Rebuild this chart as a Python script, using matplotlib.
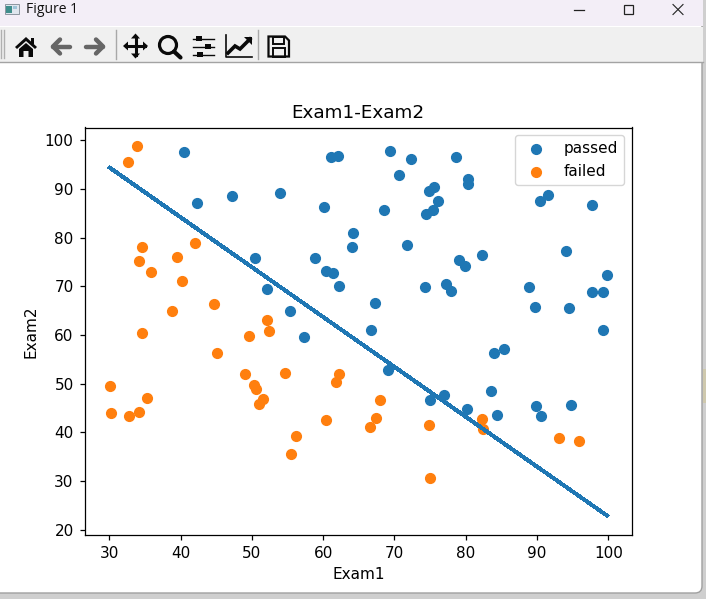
import numpy as np
import matplotlib as mpl
mpl.use('Agg')
import matplotlib.pyplot as plt
from matplotlib.patches import Polygon, Circle, Rectangle, FancyBboxPatch

passed_x = [60.18, 79.03, 61.11, 75.02, 76.10, 84.43, 82.31, 69.36, 53.97, 69.07,
            70.66, 76.98, 89.68, 77.92, 62.27, 80.19, 61.38, 85.40, 52.05, 64.18,
            83.90, 94.44, 77.19, 97.77, 62.07, 91.56, 79.94, 99.27, 90.55, 97.65,
            74.25, 71.80, 75.40, 40.46, 80.28, 66.75, 64.04, 72.35, 60.46, 58.84,
            99.83, 47.26, 50.46, 88.91, 94.83, 67.32, 57.24, 80.37, 68.47, 75.48,
            78.64, 94.09, 90.45, 74.49, 89.85, 83.49, 42.26, 99.32, 55.34, 74.78]
passed_y = [86.31, 75.34, 96.51, 46.55, 87.42, 43.53, 76.48, 97.72, 89.21, 52.74,
            92.93, 47.58, 65.80, 68.97, 69.95, 44.82, 72.81, 57.05, 69.43, 80.91,
            56.31, 65.57, 70.46, 86.73, 96.77, 88.70, 74.16, 60.99, 43.39, 68.86,
            69.82, 78.45, 85.76, 97.54, 92.12, 60.99, 78.03, 96.23, 73.09, 75.86,
            72.37, 88.48, 75.81, 69.80, 45.69, 66.59, 59.51, 90.96, 85.59, 90.42,
            96.65, 77.16, 87.51, 84.85, 45.36, 48.38, 87.10, 68.78, 64.93, 89.53]
failed_x = [34.62, 30.29, 35.85, 45.08, 95.86, 75.01, 39.54, 67.95, 67.37, 50.53,
            34.21, 93.11, 61.83, 38.79, 52.11, 40.24, 54.64, 33.92, 74.79, 34.18,
            51.55, 82.37, 51.05, 62.22, 34.52, 50.29, 49.59, 32.58, 35.29, 56.25,
            30.06, 44.67, 66.56, 49.07, 32.72, 60.46, 82.23, 42.08, 52.35, 55.48]
failed_y = [78.02, 43.89, 72.90, 56.32, 38.23, 30.60, 76.04, 46.68, 42.84, 48.86,
            44.21, 38.80, 50.26, 64.99, 63.13, 71.17, 52.21, 98.87, 41.57, 75.24,
            46.86, 40.62, 45.82, 52.06, 60.40, 49.80, 59.81, 95.60, 47.02, 39.26,
            49.59, 66.45, 41.09, 51.88, 43.31, 42.51, 42.72, 78.84, 60.77, 35.57]
boundary_x = [30.06, 99.83]
boundary_y = [94.37, 22.84]
xticks = [30, 40, 50, 60, 70, 80, 90, 100]
yticks = [20, 30, 40, 50, 60, 70, 80, 90, 100]

W, H = 706, 599
fig = plt.figure(figsize=(W/100, H/100), dpi=100)
fig.patch.set_facecolor('#cfcfcf')

# window frame and toolbar, in screen pixels
bg = fig.add_axes([0, 0, 1, 1], zorder=-1)
bg.set_xlim(0, W)
bg.set_ylim(H, 0)
bg.set_axis_off()
bg.add_patch(Rectangle((703, 369), 3, 34, fc='#cfc9ae', lw=0))
bg.add_patch(FancyBboxPatch((-20, -20), 722, 613, boxstyle='round,pad=0,rounding_size=7',
                            fc='white', ec='#a0a0a0', lw=1))
bg.add_patch(Rectangle((0, 0), 702.5, 26, fc='#f3eef7', lw=0))
bg.add_patch(Rectangle((0, 27), 702.5, 35, fc='#f0f0f0', lw=0))
bg.plot([0, 702.5], [62.3, 62.3], color='#a3a3a3', lw=1)

# title bar
bg.add_patch(Rectangle((4.5, 3.5), 14, 10.5, fc='#dfe6ee', ec='#8d96a0', lw=0.7))
bg.add_patch(Rectangle((6, 6), 6, 6.5, fc='#3f8e8c', lw=0))
bg.add_patch(Rectangle((13, 6), 4, 3, fc='#9fc4d8', lw=0))
bg.text(25.5, 9.5, 'Figure 1', fontsize=10, family='Open Sans', va='center', color='#111111')
bg.plot([574, 584], [9.5, 9.5], color='#222222', lw=0.9)
bg.add_patch(Rectangle((623.5, 4.5), 9, 9, fc='none', ec='#222222', lw=0.9))
bg.plot([673, 683], [4.5, 14.5], color='#222222', lw=0.8)
bg.plot([673, 683], [14.5, 4.5], color='#222222', lw=0.8)

# toolbar icons
dark = '#0a0a0a'
grey = '#666666'
bg.plot([1, 1], [30, 58], color='#b0b0b0', lw=1)
bg.plot([3.5, 3.5], [30, 58], color='#b0b0b0', lw=1)
for sx in [116, 258]:
    bg.plot([sx, sx], [30, 59], color='#a8a8a8', lw=1)
bg.add_patch(Polygon([(15, 47), (26, 37), (37, 47), (35, 49), (26, 41), (17, 49)], fc=dark, lw=0))
bg.add_patch(Polygon([(19, 49), (26, 43), (33, 49), (33, 57), (28.5, 57), (28.5, 51),
                      (23.5, 51), (23.5, 57), (19, 57)], fc=dark, lw=0))
bg.add_patch(Rectangle((31, 38), 3, 6, fc=dark, lw=0))
bg.plot([53, 70], [46.5, 46.5], color=grey, lw=3.2, solid_capstyle='round')
bg.plot([60, 53, 60], [39.5, 46.5, 53.5], color=grey, lw=3.2, solid_capstyle='round', solid_joinstyle='round')
bg.plot([86, 103], [46.5, 46.5], color=grey, lw=3.2, solid_capstyle='round')
bg.plot([96, 103, 96], [39.5, 46.5, 53.5], color=grey, lw=3.2, solid_capstyle='round', solid_joinstyle='round')
bg.plot([135.5, 135.5], [37, 55], color=dark, lw=2.2)
bg.plot([126, 145], [46, 46], color=dark, lw=2.2)
for px, py, dx, dy in [(135.5, 33.5, 1, 0), (135.5, 58.5, 1, 0), (123, 46, 0, 1), (148, 46, 0, 1)]:
    tx = np.sign(135.5 - px) * 5
    ty = np.sign(46 - py) * 5
    bg.add_patch(Polygon([(px, py), (px + tx + dx*4.5, py + ty + dy*4.5),
                          (px + tx - dx*4.5, py + ty - dy*4.5)], fc=dark, lw=0))
bg.add_patch(Circle((168, 45), 8.5, fc='none', ec=dark, lw=2.3))
bg.plot([174, 180.5], [51.5, 57.5], color=dark, lw=3, solid_capstyle='round')
for ly, kx in [(38.5, 199), (46.5, 208), (54.5, 200)]:
    bg.plot([193, 214], [ly, ly], color=dark, lw=1)
    bg.add_patch(Rectangle((kx - 3, ly - 2.5), 6, 5, fc=dark, lw=0))
bg.plot([226, 226, 252], [35, 56.5, 56.5], color=dark, lw=1.2)
bg.plot([228, 235, 240, 250], [53, 46, 49, 39], color=dark, lw=2.6, solid_joinstyle='miter')
bg.add_patch(Polygon([(244, 37), (252, 37), (252, 45)], fc=dark, lw=0))
bg.add_patch(Polygon([(268.5, 36.5), (285, 36.5), (289, 40.5), (289, 56.5), (268.5, 56.5)],
                     fc='none', ec=dark, lw=1.6))
bg.add_patch(Rectangle((273, 37), 11, 6.5, fc='none', ec=dark, lw=1.4))
bg.add_patch(Rectangle((272.5, 48), 12.5, 8.5, fc='none', ec=dark, lw=1.4))

# the chart itself
ax = fig.add_axes([84.5/W, (H-535)/H, 547.5/W, 407.5/H])
s = 48
ax.scatter(passed_x, passed_y, s=s, c='#1f77b4', linewidths=1.1, label='passed')
ax.scatter(failed_x, failed_y, s=s, c='#ff7f0e', linewidths=1.1, label='failed')
ax.plot(boundary_x, boundary_y, color='#1f77b4', lw=2.1, antialiased=False)
ax.set_xlim(26.52, 103.32)
ax.set_ylim(18.87, 102.63)
ax.set_xticks(xticks)
ax.set_yticks(yticks)
ax.tick_params(labelsize=11, width=0.9, length=3.9, pad=3.9)
for sp in ax.spines.values():
    sp.set_linewidth(0.9)
ax.set_title('Exam1-Exam2', fontsize=13.2, pad=6.6)
ax.set_xlabel('Exam1', fontsize=11, labelpad=4.4)
ax.set_ylabel('Exam2', fontsize=11, labelpad=4.4)
ax.legend(loc='upper right', fontsize=11)

fig.savefig('out.png', dpi=100, facecolor=fig.get_facecolor())
